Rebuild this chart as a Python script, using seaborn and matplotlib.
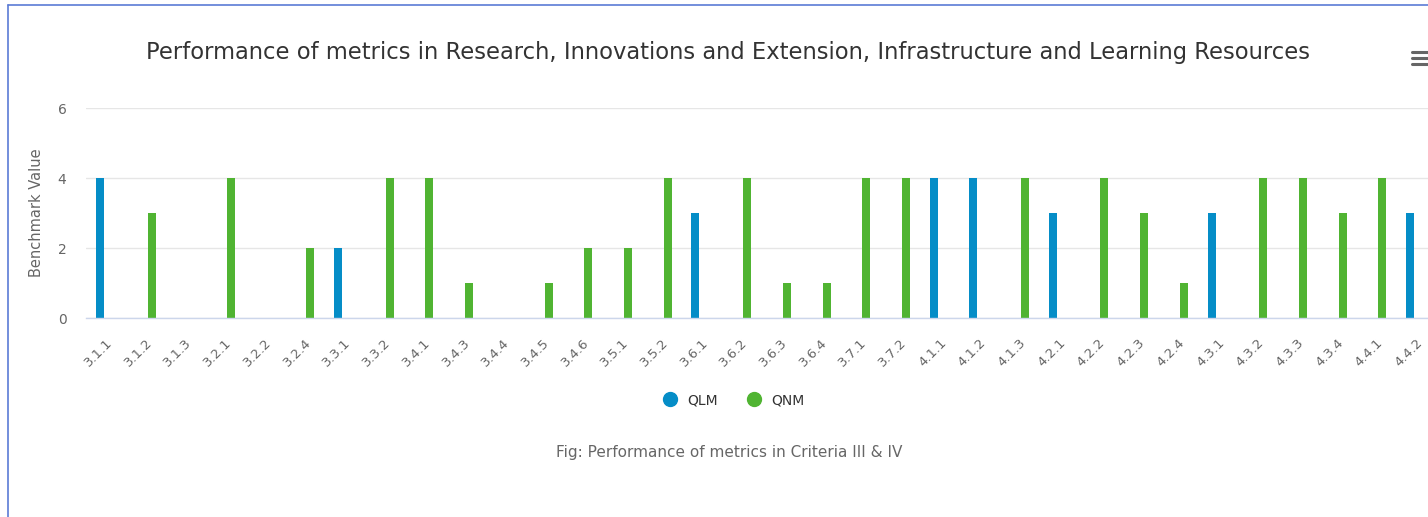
import matplotlib
matplotlib.use('Agg')
import matplotlib.pyplot as plt
from matplotlib.lines import Line2D
import seaborn as sns
import pandas as pd

# data
categories = ['3.1.1', '3.1.2', '3.1.3', '3.2.1', '3.2.2', '3.2.4', '3.3.1', '3.3.2',
              '3.4.1', '3.4.3', '3.4.4', '3.4.5', '3.4.6', '3.5.1', '3.5.2', '3.6.1',
              '3.6.2', '3.6.3', '3.6.4', '3.7.1', '3.7.2', '4.1.1', '4.1.2', '4.1.3',
              '4.2.1', '4.2.2', '4.2.3', '4.2.4', '4.3.1', '4.3.2', '4.3.3', '4.3.4',
              '4.4.1', '4.4.2']
qlm = [4, 0, 0, 0, 0, 0, 2, 0, 0, 0, 0, 0, 0, 0, 0, 3, 0, 0, 0, 0, 0, 4, 4, 0,
       3, 0, 0, 0, 3, 0, 0, 0, 0, 3]
qnm = [0, 3, 0, 4, 0, 2, 0, 4, 4, 1, 0, 1, 2, 2, 4, 0, 4, 1, 1, 4, 4, 0, 0, 4,
       0, 4, 3, 1, 0, 4, 4, 3, 4, 0]
series_names = ['QLM', 'QNM']
series_colors = ['#058dc7', '#50b432']
y_ticks = [0, 2, 4, 6]

df = pd.DataFrame({
    'metric': categories * 2,
    'series': ['QLM'] * len(categories) + ['QNM'] * len(categories),
    'value': qlm + qnm,
})

sns.set_theme(style='white')
plt.rcParams['font.family'] = ['DejaVu Sans']

W, H = 1428, 517
fig = plt.figure(figsize=(W / 100, H / 100), dpi=100)

# plot area in pixels (extends past the right edge like the original)
left, right, top, bottom = 86, 1436, 108, 318
ax = fig.add_axes([left / W, 1 - bottom / H, (right - left) / W, (bottom - top) / H])

sns.barplot(data=df, x='metric', y='value', hue='series', order=categories,
            hue_order=series_names, palette=series_colors, width=0.6, gap=0.33,
            linewidth=0, saturation=1, legend=False, ax=ax)

ax.set_xlim(-0.5, len(categories) - 0.5)
ax.set_ylim(0, 6)
ax.set_yticks(y_ticks)
ax.set_yticklabels([str(t) for t in y_ticks], color='#666666', fontsize=10)
ax.tick_params(axis='y', length=0, pad=14)
ax.yaxis.grid(True, color='#e6e6e6', linewidth=1)
ax.set_axisbelow(True)

# category boundaries get tick marks, labels sit at the centres
ax.set_xticks([i - 0.5 for i in range(len(categories) + 1)])
ax.set_xticklabels([])
ax.tick_params(axis='x', which='major', length=10, width=1, color='#ccd6eb', direction='out')
ax.set_xticks(range(len(categories)), minor=True)
ax.set_xticklabels(categories, minor=True, rotation=45, ha='right',
                   rotation_mode='anchor', color='#666666', fontsize=9.5)
ax.tick_params(axis='x', which='minor', length=0, pad=13)

for side in ['top', 'right', 'left']:
    ax.spines[side].set_visible(False)
ax.spines['bottom'].set_color('#ccd6eb')
ax.spines['bottom'].set_linewidth(1)

ax.set_xlabel('')
ax.set_ylabel('Benchmark Value', color='#666666', fontsize=10.5, labelpad=10)

fig.text(728 / W, 1 - 53 / H, 'Performance of metrics in Research, Innovations and Extension, '
         'Infrastructure and Learning Resources', ha='center', va='center',
         fontsize=16.3, color='#333333')

# legend with round markers below the chart
handles = [Line2D([], [], marker='o', linestyle='', markersize=10,
                  markerfacecolor=c, markeredgecolor=c) for c in series_colors]
fig.legend(handles, series_names, loc='center', bbox_to_anchor=(730 / W, 1 - 400 / H),
           ncol=2, frameon=False, fontsize=10, handletextpad=0.25, columnspacing=1.6,
           labelcolor='#333333')

fig.text(729 / W, 1 - 453 / H, 'Fig: Performance of metrics in Criteria III & IV',
         ha='center', va='center', fontsize=11, color='#666666')

# hamburger menu icon
for yy in [52, 58, 64]:
    fig.add_artist(Line2D([1412 / W, 1432 / W], [1 - yy / H, 1 - yy / H],
                          color='#666666', linewidth=2.2, solid_capstyle='round'))

# container border (left and top only visible)
fig.add_artist(Line2D([8 / W, 8 / W], [0, 1 - 5 / H], color='#5b7bd5', linewidth=1.2))
fig.add_artist(Line2D([8 / W, 1], [1 - 5 / H, 1 - 5 / H], color='#5b7bd5', linewidth=1.2))

fig.savefig('out.png', dpi=100)
